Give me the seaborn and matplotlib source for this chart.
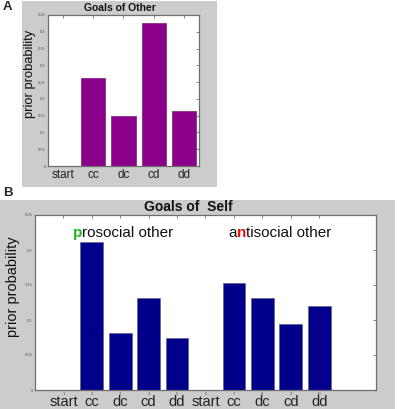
import matplotlib
matplotlib.use("Agg")
import matplotlib.pyplot as plt
import matplotlib.transforms as mtransforms
from matplotlib.patches import Rectangle
import pandas as pd
import seaborn as sns

# panel A: goals of other
other_goals = ["start", "cc", "dc", "cd", "dd"]
other_prior = [0.0, 0.262, 0.148, 0.425, 0.163]

# panel B: goals of self, two blocks (prosocial / antisocial other)
self_slots = ["1", "2", "3", "4", "5", "6", "7", "8", "9", "10"]
self_goals = ["start", "cc", "dc", "cd", "dd", "start", "cc", "dc", "cd", "dd"]
self_prior = [0.0, 0.212, 0.082, 0.131, 0.075, 0.0, 0.153, 0.132, 0.095, 0.120]

sns.set_theme(style="white")
plt.rcParams["font.family"] = ["Liberation Sans", "DejaVu Sans"]

W, H = 397, 409
fig = plt.figure(figsize=(W / 100, H / 100), dpi=100)

def px_box(x0, y0, x1, y1):
    # pixel box (top-down) -> figure fraction rect
    return [x0 / W, 1 - y1 / H, (x1 - x0) / W, (y1 - y0) / H]

# grey panel backgrounds
for x0, y0, x1, y1 in [(22, 1, 217, 187), (0, 200, 395, 409)]:
    l, b, w, h = px_box(x0, y0, x1, y1)
    fig.patches.append(Rectangle((l, b), w, h, transform=fig.transFigure,
                                 facecolor="#cccccc", edgecolor="none", zorder=-5))

def matlab_axes(ax):
    ax.set_zorder(2)
    for s in ax.spines.values():
        s.set_color("#6e6e6e")
        s.set_linewidth(0.9)
    ax.tick_params(direction="in", length=2, width=0.5, colors="#555555",
                   labelsize=3, pad=1.5, top=True, right=True)
    ax.set_xlabel("")
    ax.set_ylabel("")

# ---- panel A
axA = fig.add_axes(px_box(48, 15, 199, 166))
dfA = pd.DataFrame({"goal": other_goals, "prior": other_prior})
sns.barplot(data=dfA, x="goal", y="prior", order=other_goals, color="#8b008b",
            saturation=1, width=0.8, edgecolor="#6a006a", linewidth=0.4, ax=axA)
axA.set_xlim(-0.5, 4.5)
axA.set_ylim(0, 0.45)
axA.set_yticks([0, 0.05, 0.1, 0.15, 0.2, 0.25, 0.3, 0.35, 0.4, 0.45])
axA.set_yticklabels(["0", "0.05", "0.1", "0.15", "0.2", "0.25", "0.3", "0.35", "0.4", "0.45"])
matlab_axes(axA)
axA.tick_params(axis="x", labelsize=8.5, colors="#555555", labelcolor="#222222", pad=2)

# ---- panel B
axB = fig.add_axes(px_box(35, 215, 376, 390))
dfB = pd.DataFrame({"slot": self_slots, "goal": self_goals, "prior": self_prior})
sns.barplot(data=dfB, x="slot", y="prior", order=self_slots, color="#00008b",
            saturation=1, width=0.8, edgecolor="#5a5a7a", linewidth=0.4, ax=axB)
axB.set_xlim(-1, 11)
axB.set_ylim(0, 0.25)
axB.set_yticks([0, 0.05, 0.1, 0.15, 0.2, 0.25])
axB.set_yticklabels(["0", "0.05", "0.1", "0.15", "0.2", "0.25"])
matlab_axes(axB)

trans = mtransforms.blended_transform_factory(axB.transData, fig.transFigure)
for i, name in enumerate(self_goals):
    axB.text(i, 1 - 406.5 / H, name, transform=trans, ha="center", va="baseline",
             fontsize=10.5, color="#222222")

def colored_words(ax, x, y, parts, size=11):
    t = ax.text(x, y, parts[0][0], color=parts[0][1], fontsize=size,
                ha="left", va="baseline", fontweight=parts[0][2])
    for txt, col, wt in parts[1:]:
        t = ax.annotate(txt, xy=(1, 0), xycoords=t, ha="left", va="bottom",
                        color=col, fontsize=size, fontweight=wt)

colored_words(axB, 0.34, 0.2186, [("p", "#22b422", "bold"),
                                  ("rosocial other", "#111111", "normal")])
colored_words(axB, 5.8, 0.2186, [("a", "#111111", "normal"),
                                 ("n", "#ee1111", "bold"),
                                 ("tisocial other", "#111111", "normal")])

# titles, y labels, panel letters
fig.text(120 / W, 1 - 8 / H, "Goals of Other", ha="center", va="center",
         fontsize=7.5, fontweight="bold", color="#111111")
fig.text(188 / W, 1 - 207 / H, "Goals of  Self", ha="center", va="center",
         fontsize=10, fontweight="bold", color="#111111")
fig.text(30 / W, 1 - 74 / H, "prior probability", rotation=90, ha="center",
         va="center", fontsize=9.3, color="#111111")
fig.text(13 / W, 1 - 287 / H, "prior probability", rotation=90, ha="center",
         va="center", fontsize=10.5, color="#111111")
fig.text(7.5 / W, 1 - 7.5 / H, "A", ha="center", va="center", fontsize=9.5,
         fontweight="bold")
fig.text(8 / W, 1 - 193 / H, "B", ha="center", va="center", fontsize=9.5,
         fontweight="bold")

fig.savefig("out.png", dpi=100)
